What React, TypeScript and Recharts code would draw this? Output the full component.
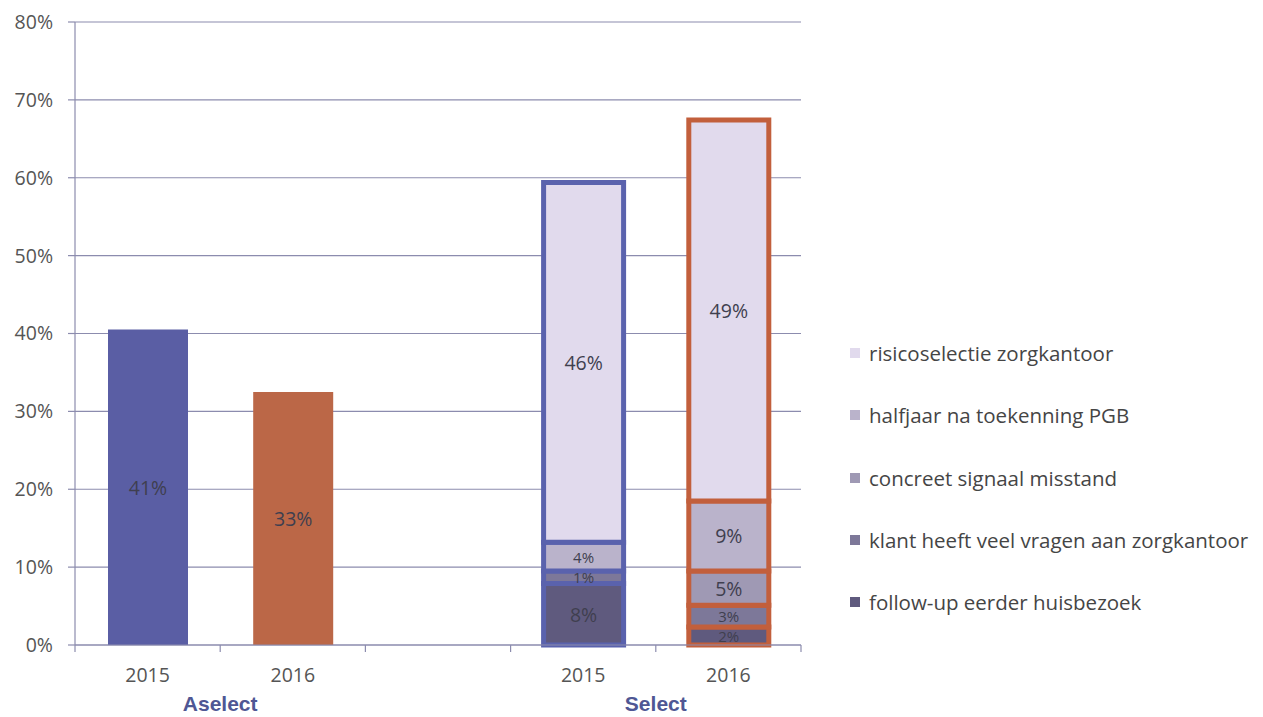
import React from 'react';
import { BarChart, Bar, XAxis, YAxis, CartesianGrid, Legend, Cell, LabelList } from 'recharts';

const categories = ['2015', '2016', '', '2015', '2016'];
const groupLabels = ['Aselect', '', '', 'Select', ''];

const aselectValues = [40.5, 32.5, null, null, null];
const aselectLabels = ['41%', '33%', '', '', ''];
const followValues = [null, null, null, 7.9, 2.3];
const followLabels = ['', '', '', '8%', '2%'];
const klantValues = [null, null, null, 1.6, 2.8];
const klantLabels = ['', '', '', '1%', '3%'];
const concreetValues = [null, null, null, null, 4.4];
const concreetLabels = ['', '', '', '', '5%'];
const halfjaarValues = [null, null, null, 3.7, 9.0];
const halfjaarLabels = ['', '', '', '4%', '9%'];
const risicoValues = [null, null, null, 46.2, 48.9];
const risicoLabels = ['', '', '', '46%', '49%'];

const yTicks = [0, 10, 20, 30, 40, 50, 60, 70, 80];

const aselectColors = ['#5a5ea4', '#bb6747', '#000', '#000', '#000'];
const outlineColors = ['none', 'none', 'none', '#5a62ad', '#c25f3c'];

const series = [
  { key: 'follow', name: 'follow-up eerder huisbezoek', color: '#5f5a7e', values: followValues, labels: followLabels },
  { key: 'klant', name: 'klant heeft veel vragen aan zorgkantoor', color: '#7d7899', values: klantValues, labels: klantLabels },
  { key: 'concreet', name: 'concreet signaal misstand', color: '#9f99b4', values: concreetValues, labels: concreetLabels },
  { key: 'halfjaar', name: 'halfjaar na toekenning PGB', color: '#bab3cb', values: halfjaarValues, labels: halfjaarLabels },
  { key: 'risico', name: 'risicoselectie zorgkantoor', color: '#e1daed', values: risicoValues, labels: risicoLabels },
];

const data = categories.map((c, i) => {
  const row: any = { name: c, group: groupLabels[i], aselect: aselectValues[i], aselectLabel: aselectLabels[i] };
  series.forEach((s) => {
    row[s.key] = s.values[i];
    row[s.key + 'Label'] = s.labels[i];
  });
  return row;
});

const FONT = '"Open Sans", sans-serif';
const AXIS_COLOR = '#8c8cae';
const SLOT = 145.2;

const XTick = (props: any) => {
  const { x, y, payload } = props;
  const idx = payload.index;
  const grp = groupLabels[idx];
  return (
    <g>
      <line x1={x - SLOT / 2} y1={y} x2={x - SLOT / 2} y2={y + 7} stroke={AXIS_COLOR} strokeWidth={1.2} />
      {idx === categories.length - 1 && (
        <line x1={x + SLOT / 2} y1={y} x2={x + SLOT / 2} y2={y + 7} stroke={AXIS_COLOR} strokeWidth={1.2} />
      )}
      <text x={x} y={y + 37} textAnchor="middle" fill="#555555" fontSize={19.5} fontFamily={FONT}>
        {payload.value}
      </text>
      {grp && (
        <text x={x + SLOT / 2} y={y + 66} textAnchor="middle" fill="#4f5794" fontSize={21} fontWeight="bold" fontFamily='"Liberation Sans", Arial, sans-serif'>
          {grp}
        </text>
      )}
    </g>
  );
};

const SegLabel = (props: any) => {
  const { x, y, width, height, value } = props;
  if (!value || height == null) return null;
  const small = Math.abs(height) < 32;
  return (
    <text
      x={x + width / 2}
      y={y + height / 2}
      textAnchor="middle"
      dominantBaseline="central"
      fill="#3f3f4f"
      fontSize={small ? 15 : 19.5}
      fontFamily={FONT}
    >
      {value}
    </text>
  );
};

const LegendBox = () => (
  <div style={{ fontFamily: FONT }}>
    {[...series].reverse().map((s) => (
      <div key={s.key} style={{ height: 62.3, display: 'flex', alignItems: 'center' }}>
        <span style={{ display: 'inline-block', width: 10, height: 10, background: s.color, marginRight: 9 }} />
        <span style={{ fontSize: 20.5, color: '#454545', whiteSpace: 'nowrap' }}>{s.name}</span>
      </div>
    ))}
  </div>
);

export default function App() {
  return (
    <div style={{ position: 'absolute', left: 0, top: 0, background: '#fff' }}>
      <BarChart
        width={1263}
        height={717}
        data={data}
        margin={{ top: 22, right: 462, bottom: 12, left: 0 }}
        barCategoryGap={0}
      >
        <CartesianGrid vertical={false} stroke={AXIS_COLOR} strokeWidth={1.2} />
        <YAxis
          width={75}
          domain={[0, 80]}
          ticks={yTicks}
          tickFormatter={(v: number) => `${v}%`}
          axisLine={{ stroke: AXIS_COLOR, strokeWidth: 1.2 }}
          tickLine={{ stroke: AXIS_COLOR, strokeWidth: 1.2 }}
          tickSize={7}
          tickMargin={15}
          tick={{ fill: '#555555', fontSize: 19.5, fontFamily: FONT }}
          interval={0}
        />
        <XAxis
          dataKey="name"
          height={60}
          axisLine={{ stroke: AXIS_COLOR, strokeWidth: 1.2 }}
          tickLine={false}
          tickSize={0}
          tickMargin={0}
          interval={0}
          tick={<XTick />}
        />
        <Legend
          layout="vertical"
          align="center"
          verticalAlign="middle"
          wrapperStyle={{ left: 850, top: 322, width: 413 }}
          content={() => <LegendBox />}
        />
        <Bar dataKey="aselect" stackId="s" barSize={80} isAnimationActive={false} legendType="none">
          {data.map((d, i) => (
            <Cell key={i} fill={aselectColors[i]} />
          ))}
          <LabelList dataKey="aselectLabel" content={<SegLabel />} />
        </Bar>
        {series.map((s) => (
          <Bar key={s.key} dataKey={s.key} name={s.name} stackId="s" barSize={80} fill={s.color} isAnimationActive={false}>
            {data.map((d, i) => (
              <Cell key={i} fill={s.color} stroke={outlineColors[i]} strokeWidth={5} />
            ))}
            <LabelList dataKey={s.key + 'Label'} content={<SegLabel />} />
          </Bar>
        ))}
      </BarChart>
    </div>
  );
}
